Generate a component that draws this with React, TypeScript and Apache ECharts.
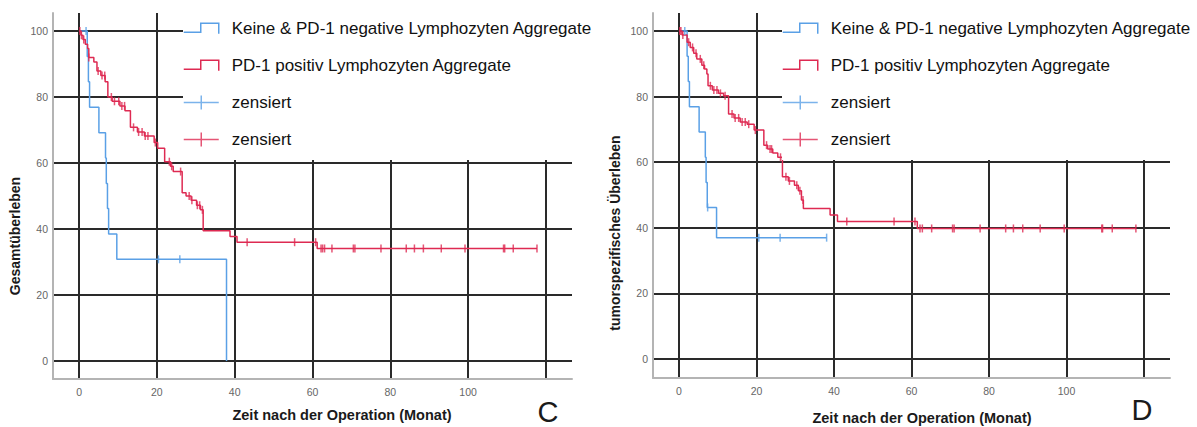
import React, { useEffect, useRef } from 'react';
import * as echarts from 'echarts';

// ---- names ----
const NEG = 'Keine & PD-1 negative Lymphozyten Aggregate';
const POS = 'PD-1 positiv Lymphozyten Aggregate';
const CENS_NEG = 'zensiert (negativ)';
const CENS_POS = 'zensiert (positiv)';

const xTickLabels = [0, 20, 40, 60, 80, 100];
const yTickLabels = [0, 20, 40, 60, 80, 100];

const xTitle = 'Zeit nach der Operation (Monat)';
const yTitleC = 'Gesamtüberleben';
const yTitleD = 'tumorspezifisches Überleben';

// ---- Panel C: Gesamtüberleben (time in months, survival %) ----
const negStepsC: [number, number][] = [
  [0, 100], [2.1, 92.3], [2.4, 84.6], [2.7, 76.9], [5.1, 69.2], [6.8, 61.5],
  [7.0, 53.8], [7.3, 46.2], [7.6, 38.5], [9.7, 30.8], [37.9, 0],
];
const negCensorC = [1.8, 20.4, 25.9];

const posStepsC: [number, number][] = [
  [0, 100], [0.5, 98.7], [1.0, 97.4], [1.6, 96.0], [2.2, 94.7], [2.5, 92.0],
  [3.8, 90.6], [4.6, 87.9], [5.6, 86.5], [6.7, 84.6], [7.4, 80.0], [8.5, 78.7],
  [10.5, 77.3], [11.8, 75.8], [13.2, 70.8], [15.0, 69.4], [16.8, 68.2], [19.3, 66.2],
  [20.2, 64.5], [22.0, 60.4], [23.5, 59.0], [24.2, 57.4], [26.5, 51.0], [27.5, 50.0],
  [28.8, 48.7], [30.2, 47.2], [31.2, 45.8], [31.9, 39.5], [38.8, 37.7], [40.6, 36.0],
  [61.2, 34.1], [117.7, 34.1],
];
const posCensorC = [
  0.2, 0.6, 1.2, 2.5, 4.9, 5.9, 6.6, 8.3, 9.1, 10.2, 11.0, 11.7, 14.0, 15.3, 16.2,
  17.0, 17.7, 19.6, 23.2, 23.8, 26.1, 28.3, 29.0, 30.4, 31.0, 31.7, 43.2, 55.4, 60.8,
  62.2, 62.6, 63.1, 65.0, 70.5, 70.9, 77.6, 84.1, 86.2, 88.5, 93.1, 99.2, 109.1, 109.4,
  111.6, 117.7,
];

// ---- Panel D: tumorspezifisches Überleben ----
const negStepsD: [number, number][] = [
  [0, 100], [2.1, 92.3], [2.4, 84.6], [2.7, 76.9], [5.2, 69.2], [6.8, 61.5],
  [7.0, 53.8], [7.3, 46.2], [9.7, 37.0], [38.1, 37.0],
];
const negCensorD = [1.5, 7.4, 20.6, 26.1, 38.1];

const posStepsD: [number, number][] = [
  [0, 100], [0.8, 98.8], [2.1, 96.6], [2.9, 95.0], [3.8, 93.2], [4.6, 91.5],
  [5.9, 89.6], [6.6, 88.4], [7.2, 86.9], [7.5, 83.3], [8.6, 82.0], [10.2, 81.0],
  [11.5, 80.3], [12.8, 74.7], [14.2, 73.5], [15.8, 72.3], [17.6, 71.6], [19.4, 69.8],
  [21.9, 65.2], [22.9, 64.0], [24.2, 62.8], [25.5, 61.5], [26.7, 55.6], [28.2, 54.3],
  [29.8, 53.0], [30.8, 51.3], [31.6, 48.5], [32.1, 45.9], [39.0, 43.9], [40.9, 41.9],
  [61.5, 39.8], [117.9, 39.8],
];
const posCensorD = [
  0.2, 0.5, 1.0, 2.5, 3.5, 4.4, 5.5, 6.4, 8.1, 9.0, 9.8, 10.7, 11.9, 13.7, 14.5, 15.4,
  16.3, 17.1, 18.0, 19.7, 22.6, 23.5, 23.9, 26.2, 27.6, 28.5, 30.4, 31.2, 32.0, 43.3,
  55.5, 60.9, 62.2, 62.8, 65.2, 70.6, 71.0, 77.7, 84.3, 86.3, 88.7, 93.2, 99.4, 109.1,
  109.3, 111.8, 117.9,
];

// ---- styles ----
const BLUE = '#5aa0e6';
const RED = '#de2a52';
const FONT = '"Liberation Sans", Arial, sans-serif';
const STEP_ICON = 'path://M0,0M0,14M0,10.7L17,10.7L17,1.7L35,1.7L35,12.3';
const CROSS_ICON = 'path://M0,7L35,7M17.5,0L17.5,14';

function survivalAt(steps: [number, number][], t: number): number {
  let v = steps[0][1];
  for (const [st, sv] of steps) {
    if (st <= t) v = sv;
    else break;
  }
  return v;
}

function panelSeries(
  idx: number,
  negSteps: [number, number][],
  negCensor: number[],
  posSteps: [number, number][],
  posCensor: number[],
) {
  const common = { xAxisIndex: idx, yAxisIndex: idx };
  return [
    {
      ...common, type: 'line', name: NEG, step: 'end', data: negSteps, symbol: 'none',
      lineStyle: { color: BLUE, width: 1.5 }, itemStyle: { color: BLUE }, z: 3,
    },
    {
      ...common, type: 'line', name: POS, step: 'end', data: posSteps, symbol: 'none',
      lineStyle: { color: RED, width: 1.5 }, itemStyle: { color: RED }, z: 4,
    },
    {
      ...common, type: 'scatter', name: CENS_NEG, symbol: 'rect', symbolSize: [1.5, 8],
      data: negCensor.map((t) => [t, survivalAt(negSteps, t)]),
      itemStyle: { color: BLUE }, z: 5,
    },
    {
      ...common, type: 'scatter', name: CENS_POS, symbol: 'rect', symbolSize: [1.5, 8],
      data: posCensor.map((t) => [t, survivalAt(posSteps, t)]),
      itemStyle: { color: RED }, z: 6,
    },
  ];
}

function xAxis(idx: number) {
  return {
    type: 'value', gridIndex: idx, min: -6.7, max: 126.7, splitNumber: 6,
    minInterval: 20, maxInterval: 20,
    axisLine: { show: true, onZero: false, lineStyle: { color: '#b4b4b4', width: 2 } },
    axisTick: { show: false },
    axisLabel: {
      color: '#666', fontSize: 10.5, fontFamily: FONT, margin: 7,
      showMinLabel: false, showMaxLabel: false,
      formatter: (v: number) => (xTickLabels.includes(v) ? String(v) : ''),
    },
    splitLine: { show: true, showMinLine: false, showMaxLine: false, lineStyle: { color: '#2a2a2a', width: 2 } },
  };
}

function yAxis(idx: number, min: number, max: number) {
  return {
    type: 'value', gridIndex: idx, min, max, splitNumber: 5,
    minInterval: 20, maxInterval: 20,
    axisLine: { show: true, onZero: false, lineStyle: { color: '#b4b4b4', width: 2 } },
    axisTick: { show: false },
    axisLabel: {
      color: '#666', fontSize: 10.5, fontFamily: FONT, margin: 5,
      showMinLabel: false, showMaxLabel: false,
      formatter: (v: number) => (yTickLabels.includes(v) ? String(v) : ''),
    },
    splitLine: { show: true, showMinLine: false, showMaxLine: false, lineStyle: { color: '#2a2a2a', width: 2 } },
  };
}

function legend(left: number) {
  return {
    orient: 'vertical', left, top: 10, padding: [10, 20, 12, 0],
    backgroundColor: '#ffffff', itemWidth: 35, itemHeight: 14, itemGap: 20,
    selectedMode: false, symbolKeepAspect: true, z: 10,
    textStyle: { fontSize: 17, color: '#111', fontFamily: FONT, padding: [0, 0, 0, 8] },
    formatter: (name: string) => (name.startsWith('zensiert') ? 'zensiert' : name),
    data: [
      { name: NEG, icon: STEP_ICON, itemStyle: { color: 'rgba(0,0,0,0)', borderColor: BLUE, borderWidth: 1.5 } },
      { name: POS, icon: STEP_ICON, itemStyle: { color: 'rgba(0,0,0,0)', borderColor: RED, borderWidth: 1.5 } },
      { name: CENS_NEG, icon: CROSS_ICON, itemStyle: { color: 'rgba(0,0,0,0)', borderColor: BLUE, borderWidth: 1.5 } },
      { name: CENS_POS, icon: CROSS_ICON, itemStyle: { color: 'rgba(0,0,0,0)', borderColor: RED, borderWidth: 1.5 } },
    ],
  };
}

function titleText(x: number, y: number, text: string, rotate = false, size = 13, bold = true) {
  return {
    type: 'text', x, y, rotation: rotate ? Math.PI / 2 : 0, z: 20,
    style: {
      text, fill: '#1a1a1a', fontSize: size, fontWeight: bold ? 'bold' : 'normal',
      fontFamily: FONT, align: 'center', verticalAlign: 'middle',
    },
  };
}

export default function App() {
  const ref = useRef<HTMLDivElement>(null);
  useEffect(() => {
    if (!ref.current) return;
    const chart = echarts.init(ref.current, null, { renderer: 'svg' });
    chart.setOption({
      animation: false,
      backgroundColor: '#ffffff',
      grid: [
        { left: 53, top: 13, width: 519, height: 366 },
        { left: 653, top: 13, width: 517, height: 365 },
      ],
      xAxis: [xAxis(0), xAxis(1)],
      yAxis: [yAxis(0, -5.45, 105.45), yAxis(1, -5.8, 105.5)],
      legend: [legend(183), legend(782)],
      series: [
        ...panelSeries(0, negStepsC, negCensorC, posStepsC, posCensorC),
        ...panelSeries(1, negStepsD, negCensorD, posStepsD, posCensorD),
      ],
      graphic: [
        titleText(15, 236, yTitleC, true, 14),
        titleText(615, 233, yTitleD, true, 14),
        titleText(342, 415, xTitle, false, 14.5),
        titleText(922, 418, xTitle, false, 14.5),
        titleText(548, 412, 'C', false, 29, false),
        titleText(1142, 410, 'D', false, 29, false),
      ],
    });
    return () => chart.dispose();
  }, []);
  return (
    <div
      ref={ref}
      style={{ position: 'fixed', left: 0, top: 0, width: 1197, height: 427, background: '#fff' }}
    />
  );
}
